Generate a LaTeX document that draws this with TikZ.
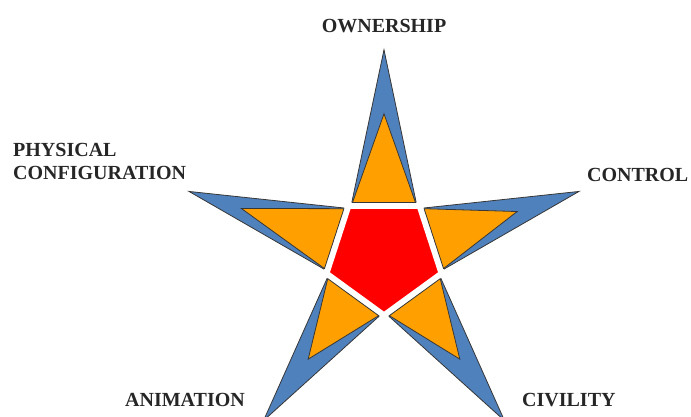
\documentclass[tikz,border=0pt]{standalone}
\usepackage{fontspec}
\setmainfont{Liberation Serif}
\usepackage{xcolor}

\definecolor{armblue}{RGB}{79,129,189}
\definecolor{armorange}{RGB}{255,160,0}
\definecolor{hubred}{RGB}{255,0,0}
\definecolor{rimgray}{RGB}{55,55,55}

\begin{document}
\begin{tikzpicture}[x=1pt,y=1pt,
    bluestar/.style={fill=armblue, draw=rimgray, line width=0.8pt, line join=miter},
    orangearm/.style={fill=armorange, draw=rimgray, line width=0.8pt, line join=miter},
    hub/.style={fill=hubred, draw=white, line width=6.4pt, line join=miter},
    lab/.style={font=\fontsize{20}{23}\selectfont\bfseries, text=black!85, inner sep=0pt}]
	\useasboundingbox (-384,-162.2) rectangle (307,254.8);
	\clip (-384,-162.2) rectangle (307,254.8);
	
	% blue star, inner corners on the hub
	\draw[bluestar] (90:205) -- (126:57) -- (162:205) -- (198:57) -- (234:205)
		-- (270:57) -- (306:205) -- (342:57) -- (18:205) -- (54:57) -- cycle;
	
	% red hub with white rim
	\draw[hub] (126:60.8) -- (198:60.8) -- (270:60.8) -- (342:60.8) -- (54:60.8) -- cycle;
	
	% orange triangles, one per arm
	\foreach \a/\t in {90/141, 162/150, 234/129, 306/129, 18/140}
		\draw[orangearm] (\a:\t) -- ({\a+31}:61.1) -- ({\a-31}:61.1) -- cycle;
	
	\node[lab] (own) at (0,228.8) {OWNERSHIP};
	\node[lab, anchor=west, align=left] (phys) at (-371,93.8) {PHYSICAL\\CONFIGURATION};
	\node[lab, anchor=west] (ctrl) at (203,80.3) {CONTROL};
	\node[lab] (anim) at (-199,-145.2) {ANIMATION};
	\node[lab, anchor=west] (civ) at (138,-145.2) {CIVILITY};
\end{tikzpicture}
\end{document}
